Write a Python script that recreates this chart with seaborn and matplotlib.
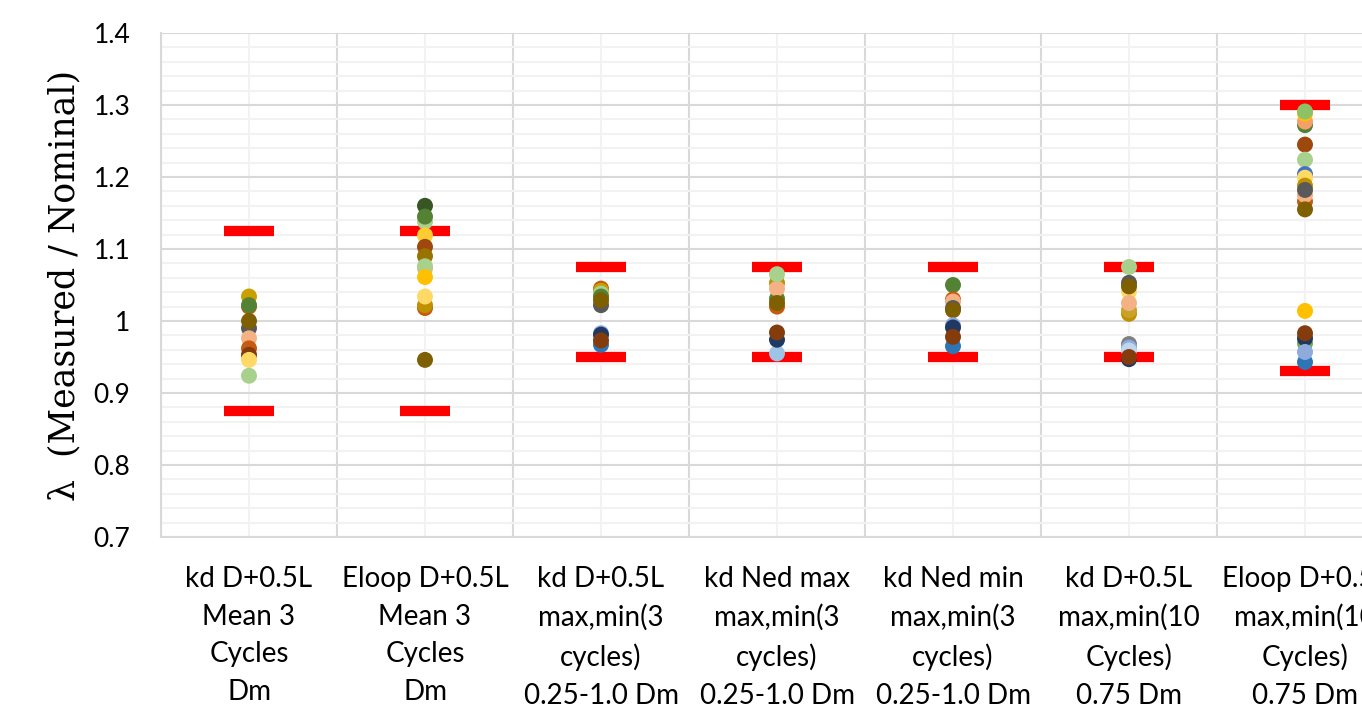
import numpy as np
import pandas as pd
import matplotlib
matplotlib.use("Agg")
import matplotlib.pyplot as plt
import seaborn as sns

# ---------------- data ----------------
categories = [
    "kd D+0.5L\nMean 3\nCycles\nDm",
    "Eloop D+0.5L\nMean 3\nCycles\nDm",
    "kd D+0.5L\nmax,min(3\ncycles)\n0.25-1.0 Dm",
    "kd Ned max\nmax,min(3\ncycles)\n0.25-1.0 Dm",
    "kd Ned min\nmax,min(3\ncycles)\n0.25-1.0 Dm",
    "kd D+0.5L\nmax,min(10\nCycles)\n0.75 Dm",
    "Eloop D+0.5L\nmax,min(10\nCycles)\n0.75 Dm",
]

upper_limit = [1.125, 1.125, 1.075, 1.075, 1.075, 1.075, 1.30]
lower_limit = [0.875, 0.875, 0.950, 0.950, 0.950, 0.950, 0.93]

cat1_values = [1.034, 1.020, 1.022, 0.990, 1.000, 0.976, 0.962, 0.953, 0.946, 0.924]
cat1_colors = ["#C9A000", "#C55A11", "#548235", "#595959", "#7F6000", "#F4B183",
               "#C55A11", "#843C0C", "#FFD966", "#A9D18E"]

cat2_values = [1.160, 1.138, 1.145, 1.119, 1.103, 1.090, 1.073, 1.076, 1.061,
               1.018, 1.022, 1.034, 0.946]
cat2_colors = ["#375623", "#A9D18E", "#548235", "#FFCC33", "#9E480E", "#997300",
               "#F4B183", "#A9D18E", "#FFC000", "#C55A11", "#BF9000", "#FFD966", "#7F6000"]

cat3_values = [1.045, 1.042, 1.038, 1.034, 1.022, 1.029, 0.983, 0.981, 0.967, 0.973]
cat3_colors = ["#C55A11", "#C9A000", "#A9D18E", "#548235", "#595959", "#7F6000",
               "#8FAADC", "#1F3864", "#2E75B6", "#843C0C"]

cat4_values = [1.020, 1.031, 1.053, 1.045, 1.065, 1.025, 0.955, 0.974, 0.984]
cat4_colors = ["#C55A11", "#548235", "#BF9000", "#F4B183", "#A9D18E", "#7F6000",
               "#9DC3E6", "#1F3864", "#843C0C"]

cat5_values = [1.050, 1.030, 1.027, 1.018, 1.015, 0.965, 0.994, 0.991, 0.978]
cat5_colors = ["#548235", "#C55A11", "#F4B183", "#595959", "#7F6000", "#2E75B6",
               "#8FAADC", "#1F3864", "#843C0C"]

cat6_values = [1.075, 1.053, 1.041, 1.048, 1.010, 1.015, 1.025, 0.968, 0.963,
               0.959, 0.947, 0.950]
cat6_colors = ["#A9D18E", "#595959", "#FFD966", "#7F6000", "#BF9000", "#C9A227",
               "#F4B183", "#7F7F7F", "#8FAADC", "#BDD7EE", "#1F3864", "#843C0C"]

cat7_values = [1.272, 1.277, 1.288, 1.291, 1.245, 1.224, 1.204, 1.199, 1.188,
               1.166, 1.175, 1.182, 1.155, 1.014, 0.943, 0.969, 0.976, 0.957, 0.983]
cat7_colors = ["#548235", "#F4A06A", "#FFC000", "#8CC168", "#9E480E", "#A9D18E",
               "#4472C4", "#FFD966", "#BF9000", "#C55A11", "#F4B183", "#595959",
               "#7F6000", "#FFC000", "#2E75B6", "#70AD47", "#1F3864", "#8FAADC", "#843C0C"]

y_ticks = [0.7, 0.8, 0.9, 1.0, 1.1, 1.2, 1.3, 1.4]
y_tick_labels = ["0.7", "0.8", "0.9", "1", "1.1", "1.2", "1.3", "1.4"]

all_values = [cat1_values, cat2_values, cat3_values, cat4_values,
              cat5_values, cat6_values, cat7_values]
all_colors = [cat1_colors, cat2_colors, cat3_colors, cat4_colors,
              cat5_colors, cat6_colors, cat7_colors]

rows = []
for i, (vals, cols) in enumerate(zip(all_values, all_colors)):
    for v, c in zip(vals, cols):
        rows.append({"pos": i, "value": v, "color": c})
df = pd.DataFrame(rows)

# ---------------- style ----------------
sns.set_theme(style="white")
plt.rcParams["font.family"] = ["Lato", "DejaVu Sans"]

fig = plt.figure(figsize=(13.62, 7.06), dpi=100)
W, H = 1362, 706
left_px, right_px, top_px, bottom_px = 161, 161 + 7 * 176, 33, 537
ax = fig.add_axes([left_px / W, 1 - bottom_px / H,
                   (right_px - left_px) / W, (bottom_px - top_px) / H])

# limit bars
pos = np.arange(len(categories))
half = 0.14
ax.hlines(upper_limit, pos - half, pos + half, colors="#FF0000", lw=7.4,
          capstyle="butt", zorder=3)
ax.hlines(lower_limit, pos - half, pos + half, colors="#FF0000", lw=7.4,
          capstyle="butt", zorder=3)

palette = {c: c for c in df["color"].unique()}
sns.scatterplot(data=df, x="pos", y="value", hue="color", palette=palette,
                s=132, linewidth=0, legend=False, ax=ax, zorder=4)

ax.set_xlim(-0.5, len(categories) - 0.5)
ax.set_ylim(0.7, 1.4)

ax.set_xticks(pos)
ax.set_xticklabels(categories, fontsize=20, linespacing=1.55, color="#000000")
ax.set_xticks(np.arange(-0.5, len(categories) + 0.5, 1), minor=True)
ax.set_yticks(y_ticks)
ax.set_yticklabels(y_tick_labels, fontsize=19, color="#000000")
ax.set_yticks(np.arange(0.7, 1.4001, 0.02), minor=True)

ax.tick_params(axis="both", which="both", length=0)
ax.tick_params(axis="x", pad=21)
ax.tick_params(axis="y", pad=22)

ax.xaxis.grid(True, which="major", color="#F2F2F2", lw=1.5, zorder=0)
ax.xaxis.grid(True, which="minor", color="#D9D9D9", lw=1.5, zorder=0)
ax.yaxis.grid(True, which="major", color="#D9D9D9", lw=1.5, zorder=0)
ax.yaxis.grid(True, which="minor", color="#F2F2F2", lw=1.5, zorder=0)
ax.set_axisbelow(True)

for s in ["top", "right"]:
    ax.spines[s].set_visible(False)
for s in ["left", "bottom"]:
    ax.spines[s].set_color("#D9D9D9")
    ax.spines[s].set_linewidth(1.5)

ax.set_xlabel("")
ax.set_ylabel("λ  (Measured / Nominal)", fontsize=25, family="DejaVu Serif",
              color="#000000", labelpad=9)

fig.savefig("out.png", dpi=100)
